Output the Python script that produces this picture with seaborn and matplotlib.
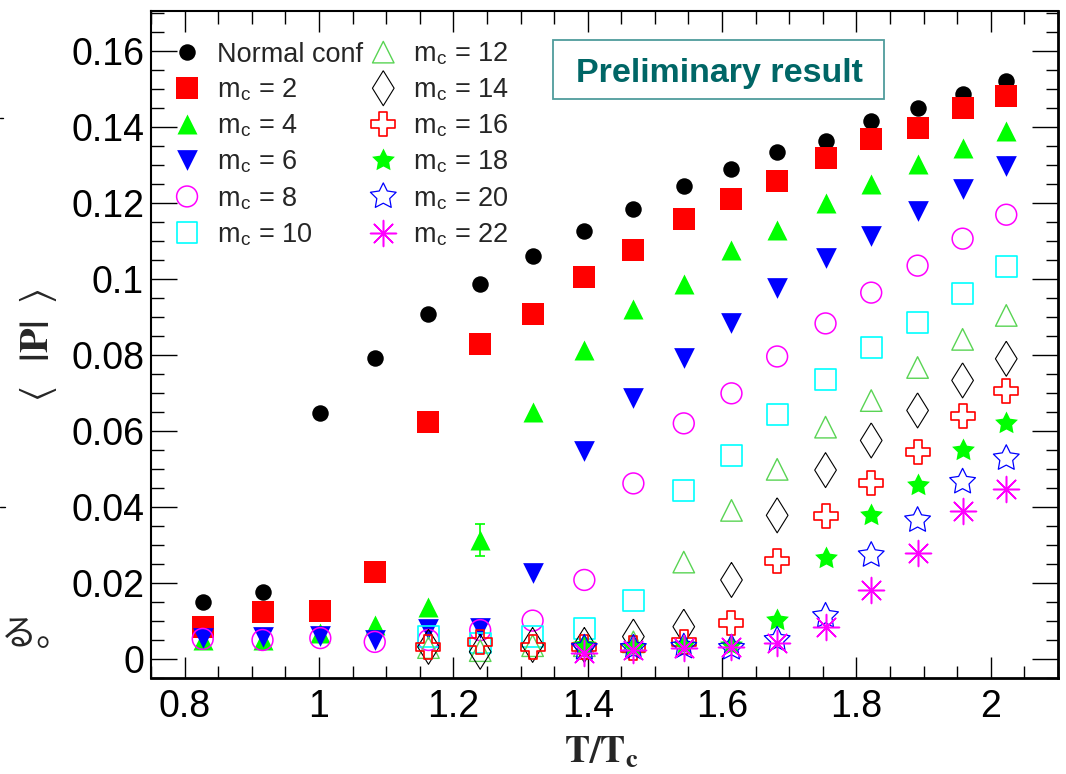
import matplotlib
matplotlib.use('Agg')
import matplotlib.pyplot as plt
from matplotlib.path import Path
from matplotlib.lines import Line2D
from matplotlib.patches import Rectangle
from matplotlib.ticker import MultipleLocator, FuncFormatter
import numpy as np
import pandas as pd
import seaborn as sns

# ---------------------------------------------------------------------------------------------------------
# data: <|P|> against T/Tc for each cut m_c
t_all = [0.827, 0.916, 1.002, 1.083, 1.163, 1.240, 1.318, 1.395, 1.468,
         1.543, 1.614, 1.682, 1.754, 1.822, 1.891, 1.958, 2.023]
t_from_116 = t_all[4:]   # m_c >= 10 start at T/Tc ~ 1.16
t_from_139 = t_all[7:]   # m_c >= 18 start at T/Tc ~ 1.39

p_normal = [0.0151, 0.0177, 0.0646, 0.0791, 0.0909, 0.0988, 0.1060, 0.1127, 0.1185,
            0.1245, 0.1290, 0.1335, 0.1364, 0.1416, 0.1450, 0.1487, 0.1520]
p_m2 = [0.0085, 0.0124, 0.0126, 0.0229, 0.0623, 0.0828, 0.0909, 0.1006, 0.1077,
        0.1159, 0.1211, 0.1259, 0.1319, 0.1369, 0.1398, 0.1450, 0.1482]
p_m4 = [0.0050, 0.0050, 0.0068, 0.0089, 0.0137, 0.0313, 0.0650, 0.0812, 0.0920,
        0.0988, 0.1077, 0.1130, 0.1201, 0.1250, 0.1303, 0.1345, 0.1390]
err_m4 = [0, 0, 0, 0, 0, 0.0042, 0, 0, 0, 0, 0, 0, 0, 0, 0, 0, 0]
p_m6 = [0.0055, 0.0059, 0.0060, 0.0050, 0.0079, 0.0082, 0.0225, 0.0548, 0.0686,
        0.0791, 0.0885, 0.0975, 0.1056, 0.1114, 0.1180, 0.1237, 0.1298]
p_m8 = [0.0053, 0.0050, 0.0055, 0.0045, 0.0050, 0.0076, 0.0101, 0.0208, 0.0462,
        0.0620, 0.0699, 0.0796, 0.0883, 0.0964, 0.1035, 0.1106, 0.1169]
p_m10 = [0.0059, 0.0042, 0.0059, 0.0081, 0.0155, 0.0444, 0.0536, 0.0644, 0.0736,
         0.0820, 0.0885, 0.0962, 0.1033]
p_m12 = [0.0030, 0.0022, 0.0035, 0.0035, 0.0045, 0.0255, 0.0391, 0.0499, 0.0610,
         0.0680, 0.0767, 0.0841, 0.0904]
p_m14 = [0.0032, 0.0019, 0.0037, 0.0037, 0.0059, 0.0085, 0.0208, 0.0378, 0.0497,
         0.0575, 0.0654, 0.0733, 0.0790]
p_m16 = [0.0032, 0.0045, 0.0032, 0.0032, 0.0029, 0.0045, 0.0095, 0.0258, 0.0377,
         0.0462, 0.0545, 0.0639, 0.0705]
p_m18 = [0.0037, 0.0032, 0.0037, 0.0037, 0.0103, 0.0265, 0.0378, 0.0457, 0.0549, 0.0620]
p_m20 = [0.0029, 0.0029, 0.0032, 0.0029, 0.0050, 0.0113, 0.0273, 0.0365, 0.0466, 0.0528]
p_m22 = [0.0016, 0.0024, 0.0029, 0.0032, 0.0042, 0.0085, 0.0181, 0.0278, 0.0390, 0.0447]

x_ticks_major = 0.2
y_ticks_major = 0.02

# ---------------------------------------------------------------------------------------------------------
sns.set_theme(style='ticks')
plt.rcParams['font.family'] = ['Liberation Sans', 'DejaVu Sans']
plt.rcParams['mathtext.fontset'] = 'stix'

def mc(n):
    return r'm$_\mathregular{c}$ = ' + str(n)

star_path = Path.unit_regular_star(5, 0.5)
thin_diamond = [(0, 1), (0.62, 0), (0, -1), (-0.62, 0), (0, 1)]

# label, T, P, marker, colour, filled, size, line width
series = [
    ('Normal conf', t_all, p_normal, 'o', '#000000', True, 141, 0),
    (mc(2), t_all, p_m2, 's', '#ff0000', True, 244, 0),
    (mc(4), t_all, p_m4, '^', '#00ff00', True, 207, 0),
    (mc(6), t_all, p_m6, 'v', '#0000ff', True, 222, 0),
    (mc(8), t_all, p_m8, 'o', '#ff00ff', False, 225, 1.1),
    (mc(10), t_from_116, p_m10, 's', '#00ffff', False, 225, 1.2),
    (mc(12), t_from_116, p_m12, '^', '#59d454', False, 240, 1.0),
    (mc(14), t_from_116, p_m14, thin_diamond, '#000000', False, 635, 0.8),
    (mc(16), t_from_116, p_m16, 'P', '#ff0000', False, 298, 1.2),
    (mc(18), t_from_139, p_m18, star_path, '#00ff00', True, 298, 0),
    (mc(20), t_from_139, p_m20, star_path, '#0000ff', False, 380, 0.9),
    (mc(22), t_from_139, p_m22, (8, 2, 0), '#ff00ff', False, 350, 1.1),
]

rows = []
for label, t, p, *_ in series:
    for ti, pi in zip(t, p):
        rows.append({'T': ti, 'P': pi, 'series': label})
df = pd.DataFrame(rows)

W, H = 1066, 774
fig = plt.figure(figsize=(W / 100, H / 100), dpi=100)
ax = fig.add_axes([151 / W, 1 - 678 / H, 907 / W, 667 / H])

for label, t, p, marker, color, filled, size, lw in series:
    sub = df[df['series'] == label]
    kws = dict(marker=marker, s=size, label=label, ax=ax, legend=False)
    if isinstance(marker, tuple):
        sns.scatterplot(data=sub, x='T', y='P', color=color, linewidth=lw, **kws)
    elif filled:
        sns.scatterplot(data=sub, x='T', y='P', color=color, edgecolor=color,
                        linewidth=lw, **kws)
    else:
        sns.scatterplot(data=sub, x='T', y='P', color=color, facecolor='none',
                        edgecolor=color, linewidth=lw, **kws)

# the one visible error bar (m_c = 4)
err = np.array(err_m4)
has_err = err > 0
ax.errorbar(np.array(t_all)[has_err], np.array(p_m4)[has_err], yerr=err[has_err],
            fmt='none', ecolor='#00ff00', elinewidth=1.2, capsize=3.6, capthick=1.2)

ax.set_xlim(0.75, 2.1)
ax.set_ylim(-0.005, 0.1705)
ax.xaxis.set_major_locator(MultipleLocator(x_ticks_major))
ax.xaxis.set_minor_locator(MultipleLocator(x_ticks_major / 4))
ax.yaxis.set_major_locator(MultipleLocator(y_ticks_major))
ax.yaxis.set_minor_locator(MultipleLocator(y_ticks_major / 4))

def fmt(v, pos):
    v = round(v, 4)
    if v == 0:
        return '0'
    return f'{v:g}'

ax.xaxis.set_major_formatter(FuncFormatter(fmt))
ax.yaxis.set_major_formatter(FuncFormatter(fmt))

ax.tick_params(which='both', direction='in', top=True, right=True, colors='black',
               width=1.0, labelsize=27)
ax.tick_params(axis='x', which='major', length=15, pad=8)
ax.tick_params(axis='x', which='minor', length=9)
ax.tick_params(axis='y', which='major', length=18.5, pad=5)
ax.tick_params(axis='y', which='minor', length=9)
for side in ['left', 'top']:
    ax.spines[side].set_linewidth(1.5)
for side in ['bottom', 'right']:
    ax.spines[side].set_linewidth(2.0)
for side in ax.spines:
    ax.spines[side].set_color('black')

ax.set_xlabel('')
ax.set_ylabel('')
fig.text(601 / W, 1 - 762 / H, r'$\mathbf{T/T_c}$', fontsize=27,
         ha='center', va='baseline')
fig.text(38 / W, 1 - 345 / H, r'$\langle\;\;\;\mathbf{|P|}\;\;\rangle$', fontsize=29,
         rotation=90, ha='center', va='center')

ax.legend(loc='upper left', bbox_to_anchor=((173.5 - 151) / 907, 0.955),
          ncol=2, frameon=False, fontsize=19.5, borderpad=0, borderaxespad=0,
          handlelength=1.0, handletextpad=0.6, columnspacing=0.25,
          labelspacing=0.35, scatterpoints=1, scatteryoffsets=[0.5])

# "Preliminary result" box
fig.add_artist(Rectangle((553 / W, 1 - 99 / H), 331 / W, 59 / H, transform=fig.transFigure,
                         fill=False, edgecolor='#4f9c9c', linewidth=1.3))
fig.text(719 / W, 1 - 82 / H, 'Preliminary result', fontsize=24.5, fontweight='bold',
         color='#006666', ha='center', va='baseline')

# leftovers of the slide around the plot
fig.text(0.5 / W, 1 - 645 / H, 'る。', fontsize=26, family=['Noto Sans CJK JP', 'DejaVu Sans'],
         ha='left', va='baseline')
fig.add_artist(Line2D([0, 3 / W], [1 - 118 / H, 1 - 118 / H], color='black', lw=1.0))
fig.add_artist(Line2D([0, 5 / W], [1 - 507 / H, 1 - 507 / H], color='black', lw=1.0))

fig.savefig('out.png', dpi=100, facecolor='white')
